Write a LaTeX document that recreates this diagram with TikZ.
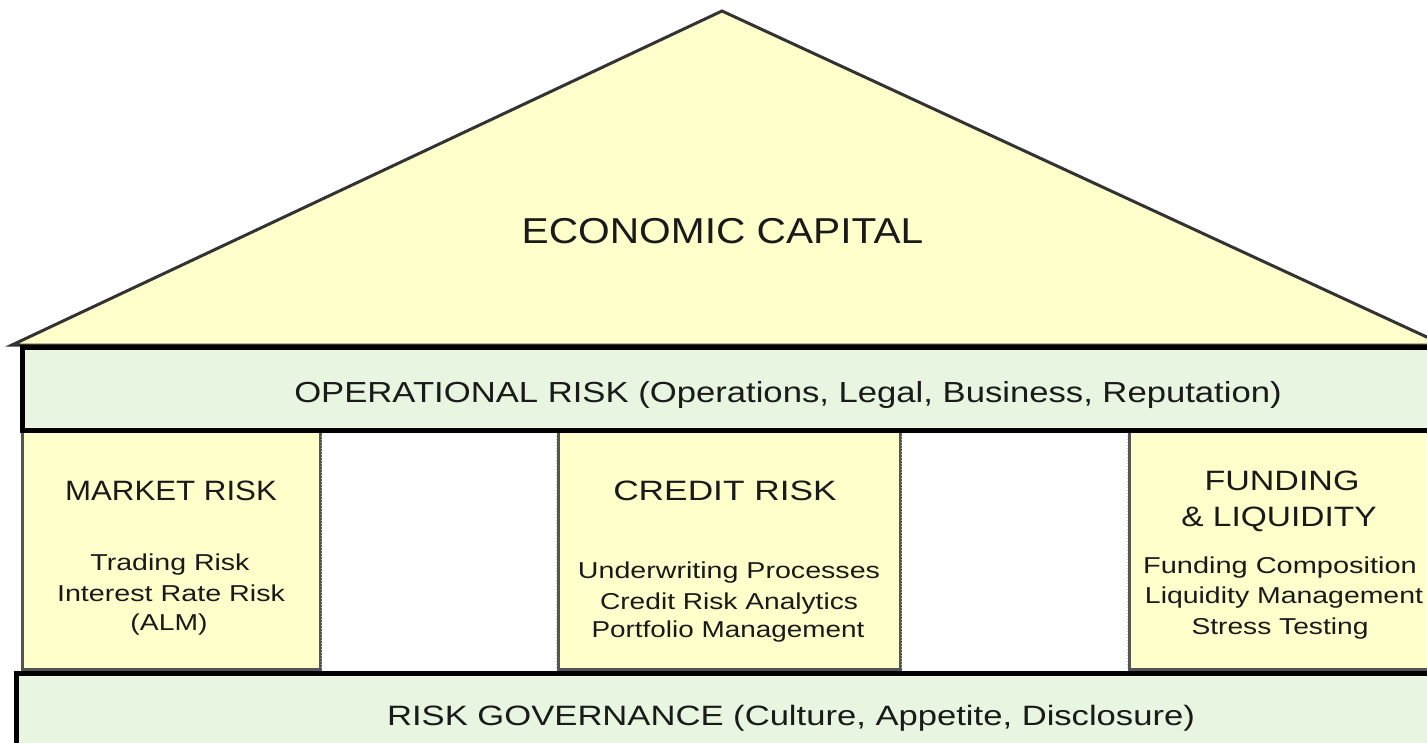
\documentclass[tikz,border=0pt]{standalone}
\usepackage{graphicx}
\usepackage{fontspec}
\setmainfont{Liberation Sans}
\definecolor{roofyellow}{HTML}{FFFFCC}
\definecolor{bandgreen}{HTML}{E8F5E0}
\definecolor{rooflinec}{HTML}{333333}
\definecolor{boxline}{HTML}{555555}
\definecolor{txt}{HTML}{1A1A1A}
\newcommand{\hx}[2]{\scalebox{#1}[1]{#2}}
\tikzset{
  roofshape/.style={fill=roofyellow, draw=rooflinec, line width=3pt, line join=miter},
  band/.style={fill=bandgreen, draw=black, line width=5pt},
  pillar/.style={fill=roofyellow, draw=boxline, line width=3pt},
  lbl/.style={inner sep=0pt, anchor=base, text=txt},
  bigtxt/.style={lbl, font=\fontsize{36}{43}\selectfont},
  bandtxt/.style={lbl, font=\fontsize{29}{35}\selectfont},
  headtxt/.style={lbl, font=\fontsize{28}{34}\selectfont},
  smalltxt/.style={lbl, font=\fontsize{23}{28}\selectfont}
}
\begin{document}
\begin{tikzpicture}[x=1pt, y=-1pt]
\useasboundingbox (0,0) rectangle (1427,742);
\clip (0,0) rectangle (1427,742);
\fill[white] (0,0) rectangle (1427,742);
% roof
\draw[roofshape] (12,345) -- (722,11) -- (1444,345) -- cycle;
% pillars
\draw[pillar] (22,431) rectangle (320,669);
\draw[pillar] (558,431) rectangle (900,669);
\draw[pillar] (1129,431) rectangle (1470,669);
% faint edges of the open bays
\draw[gray!45, line width=1pt, dotted] (321,436) -- (321,668);
\draw[gray!45, line width=1pt, dotted] (556,436) -- (556,668);
\draw[gray!45, line width=1pt, dotted] (901,436) -- (901,668);
\draw[gray!45, line width=1pt, dotted] (1127,436) -- (1127,668);
% operational band
\draw[band] (22.5,347.5) rectangle (1470,430.5);
% governance band
\draw[band] (16.5,673.5) rectangle (1470,780);
% texts
\node[bigtxt] (ec) at (722.5,243) {\hx{1.13}{ECONOMIC CAPITAL}};
\node[bandtxt] (op) at (788,402) {\hx{1.195}{OPERATIONAL RISK (Operations, Legal, Business, Reputation)}};
\node[headtxt] (gov) at (791,725) {\hx{1.236}{RISK GOVERNANCE (Culture, Appetite, Disclosure)}};
% market risk
\node[headtxt] (mh) at (171,500) {\hx{1.116}{MARKET RISK}};
\node[smalltxt] (m1) at (170,570) {\hx{1.24}{Trading Risk}};
\node[smalltxt] (m2) at (171,601) {\hx{1.247}{Interest Rate Risk}};
\node[smalltxt] (m3) at (169,630) {\hx{1.23}{(ALM)}};
% credit risk
\node[headtxt] (ch) at (725,500) {\hx{1.26}{CREDIT RISK}};
\node[smalltxt] (c1) at (729,578) {\hx{1.244}{Underwriting Processes}};
\node[smalltxt] (c2) at (729,609) {\hx{1.223}{Credit Risk Analytics}};
\node[smalltxt] (c3) at (728,637) {\hx{1.213}{Portfolio Management}};
% funding & liquidity
\node[headtxt] (fh1) at (1282,490) {\hx{1.215}{FUNDING}};
\node[headtxt] (fh2) at (1279,526) {\hx{1.195}{\& LIQUIDITY}};
\node[smalltxt] (f1) at (1280,573) {\hx{1.26}{Funding Composition}};
\node[smalltxt] (f2) at (1284,603) {\hx{1.236}{Liquidity Management}};
\node[smalltxt] (f3) at (1280,634) {\hx{1.225}{Stress Testing}};
\end{tikzpicture}
\end{document}
